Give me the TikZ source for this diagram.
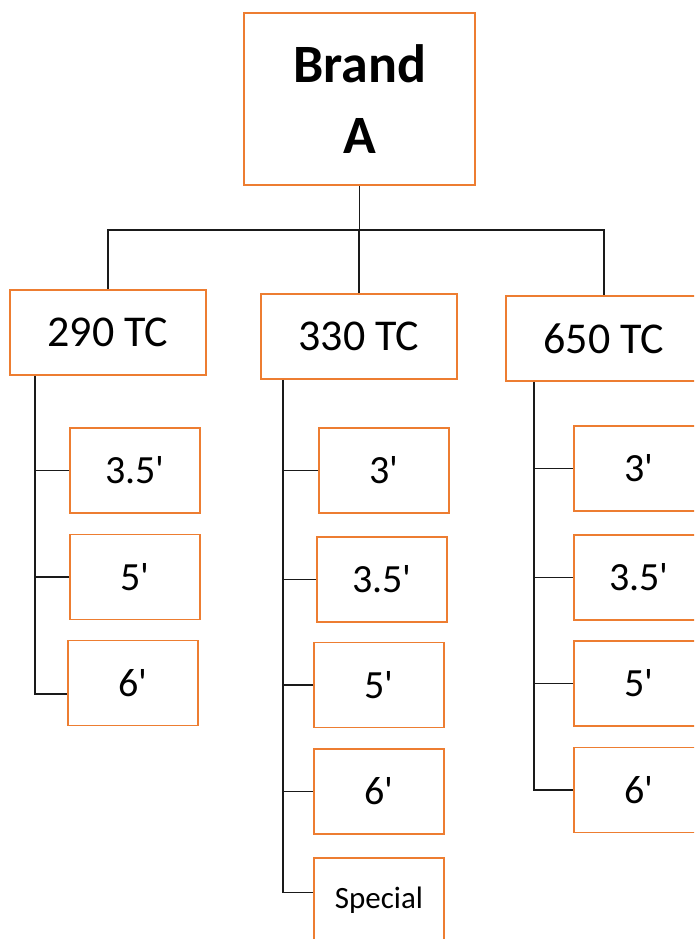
\documentclass[tikz,border=0pt]{standalone}
\usepackage{fontspec}
\setmainfont{Carlito}
\usetikzlibrary{positioning}
\definecolor{BoxOrange}{HTML}{ED7D31}
\definecolor{LinkBlack}{HTML}{1A1A1A}
\newcommand{\feet}{\textquotesingle}

\begin{document}
\begin{tikzpicture}[x=1pt,y=-1pt,
    box/.style={draw=BoxOrange,line width=1.8pt,fill=white,inner sep=0pt,
      minimum width=130pt,minimum height=85pt,font=\fontsize{40}{48}\selectfont},
    tcbox/.style={box,minimum width=196pt,font=\fontsize{44}{52}\selectfont},
    link/.style={draw=LinkBlack,line width=1.8pt}]
  \useasboundingbox (0,0) rectangle (694,939);
  \clip (0,0) rectangle (694,939);

  % brand and the three TC groups
  \node[box,minimum width=231pt,minimum height=172pt,align=center,
    font=\fontsize{54}{71}\selectfont\bfseries] (brand) at (359.5,99) {Brand\\A};
  \node[tcbox] (t290) at (108,332.5) {290 TC};
  \node[tcbox] (t330) at (359,336.5) {330 TC};
  \node[tcbox] (t650) at (604,338.5) {650 TC};

  \coordinate (bus) at (0,230);
  \draw[link] (brand.south) -- (brand.south |- bus);
  \draw[link] (t290.north) -- (t290.north |- bus) -- (t650.north |- bus) -- (t650.north);
  \draw[link] (t330.north) -- (t330.north |- bus);

  % 290 TC sizes
  \node[box] (a1) at (135,470.5) {3.5\feet};
  \node[box] (a2) at (135,577) {5\feet};
  \node[box] (a3) at (133,683) {6\feet};
  \coordinate (s290) at ([xshift=26pt]t290.south west);
  \draw[link] (s290) |- ([yshift=-11pt]a3.west);
  \foreach \n in {a1,a2}
    \draw[link] (\n.west) -- (\n.west -| s290);

  % 330 TC sizes
  \node[box] (b1) at (384,470.5) {3\feet};
  \node[box] (b2) at (382,579.5) {3.5\feet};
  \node[box] (b3) at (379,685) {5\feet};
  \node[box] (b4) at (379,791.5) {6\feet};
  \node[box,font=\fontsize{31}{36}\selectfont] (b5) at (379,900.5) {Special};
  \coordinate (s330) at ([xshift=23pt]t330.south west);
  \draw[link] (s330) |- ([yshift=8pt]b5.west);
  \foreach \n in {b1,b2,b3,b4}
    \draw[link] (\n.west) -- (\n.west -| s330);

  % 650 TC sizes
  \node[box] (c1) at (639,468.5) {3\feet};
  \node[box] (c2) at (639,577.5) {3.5\feet};
  \node[box] (c3) at (639,683.5) {5\feet};
  \node[box] (c4) at (639,790) {6\feet};
  \coordinate (s650) at ([xshift=29pt]t650.south west);
  \draw[link] (s650) |- (c4.west);
  \foreach \n in {c1,c2,c3}
    \draw[link] (\n.west) -- (\n.west -| s650);
\end{tikzpicture}
\end{document}
